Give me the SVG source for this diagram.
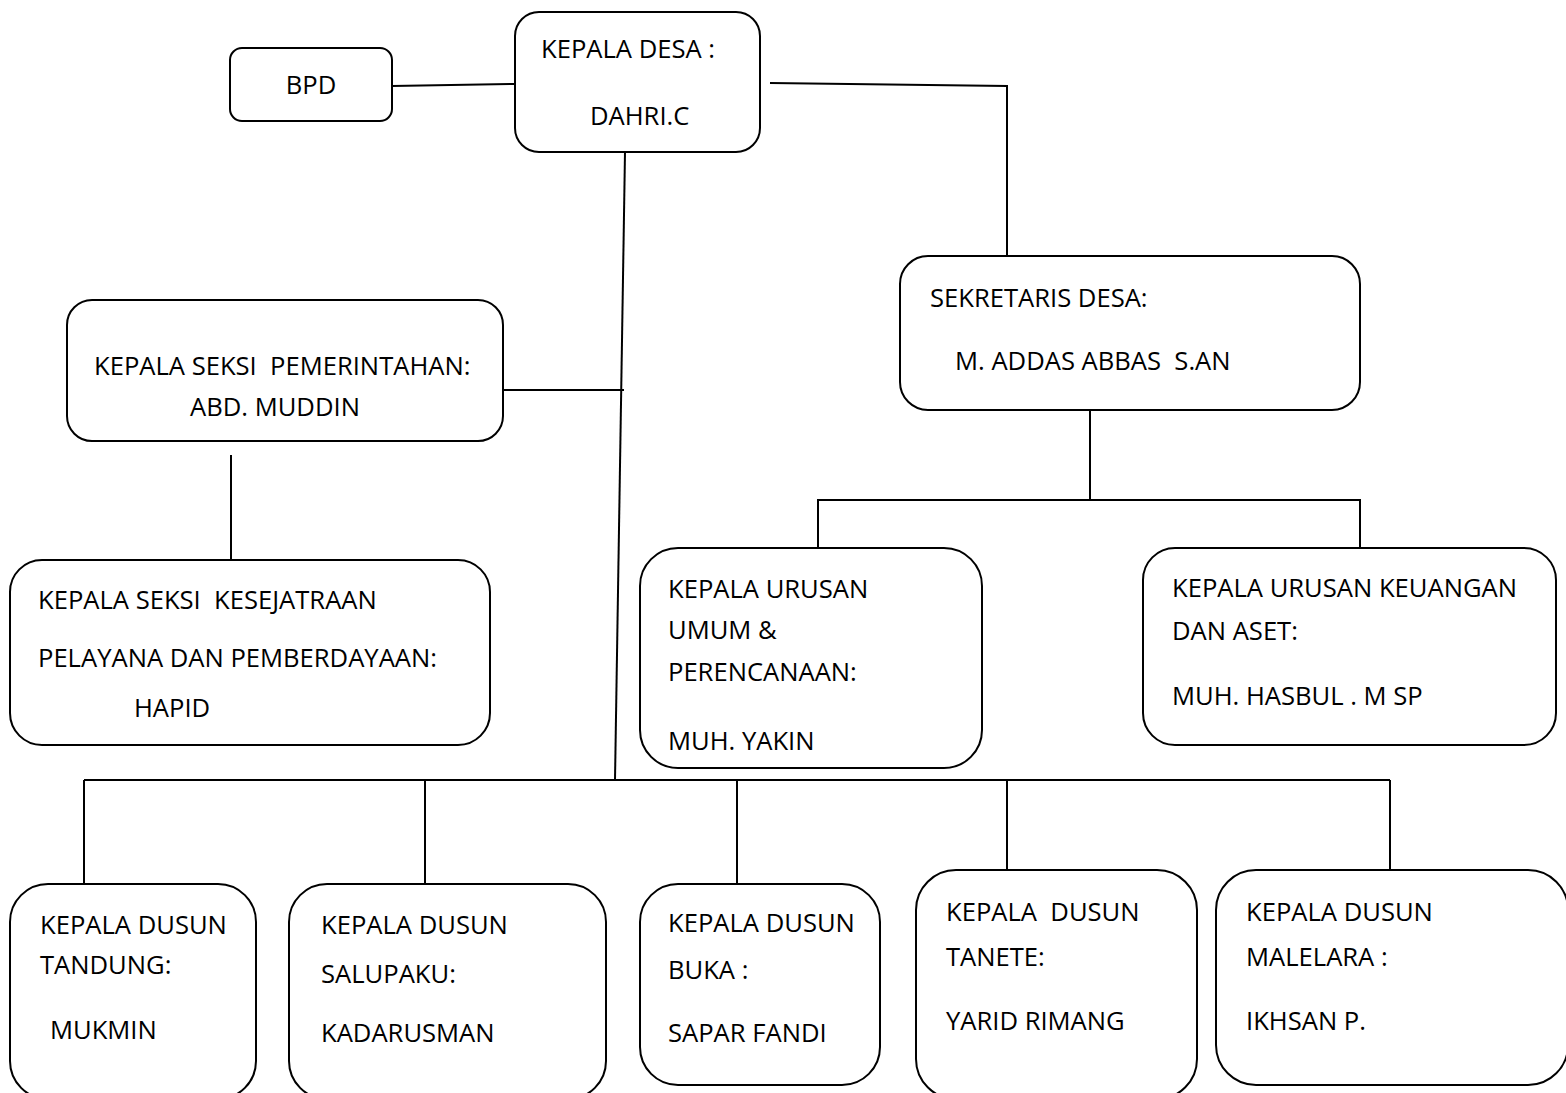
<svg xmlns="http://www.w3.org/2000/svg" width="1566" height="1093" viewBox="0 0 1566 1093">
<style>
.box{fill:#fff;stroke:#000;stroke-width:2}
.ln{fill:none;stroke:#000;stroke-width:2}
text{font-family:"Open Sans","Noto Sans",sans-serif;font-size:25.6px;fill:#000;white-space:pre}
</style>
<rect width="1566" height="1093" fill="#fff"/>
<g id="connectors">
<line class="ln" x1="392" y1="86" x2="515" y2="84"/>
<polyline class="ln" points="770,83 1007,86 1007,256"/>
<line class="ln" x1="625" y1="152" x2="615" y2="780"/>
<line class="ln" x1="503" y1="390" x2="624" y2="390"/>
<line class="ln" x1="231" y1="455" x2="231" y2="560"/>
<line class="ln" x1="1090" y1="410" x2="1090" y2="500"/>
<polyline class="ln" points="818,548 818,500 1360,500 1360,548"/>
<line class="ln" x1="84" y1="780" x2="1390" y2="780"/>
<line class="ln" x1="84" y1="780" x2="84" y2="884"/>
<line class="ln" x1="425" y1="780" x2="425" y2="884"/>
<line class="ln" x1="737" y1="780" x2="737" y2="884"/>
<line class="ln" x1="1007" y1="780" x2="1007" y2="870"/>
<line class="ln" x1="1390" y1="780" x2="1390" y2="870"/>
</g>
<g id="bpd"><rect class="box" x="230" y="48" width="162" height="73" rx="12"/><text x="311" y="94" text-anchor="middle">BPD</text></g>
<g id="kepala-desa"><rect class="box" x="515" y="12" width="245" height="140" rx="24"/><text x="541" y="58">KEPALA DESA :</text><text x="590" y="125">DAHRI.C</text></g>
<g id="sekretaris"><rect class="box" x="900" y="256" width="460" height="154" rx="28"/><text x="930" y="307">SEKRETARIS DESA:</text><text x="955" y="370">M. ADDAS ABBAS  S.AN</text></g>
<g id="seksi-pemerintahan"><rect class="box" x="67" y="300" width="436" height="141" rx="25"/><text x="94" y="375">KEPALA SEKSI  PEMERINTAHAN:</text><text x="190" y="416">ABD. MUDDIN</text></g>
<g id="seksi-kesejatraan"><rect class="box" x="10" y="560" width="480" height="185" rx="32"/><text x="38" y="609">KEPALA SEKSI  KESEJATRAAN</text><text x="38" y="667">PELAYANA DAN PEMBERDAYAAN:</text><text x="134" y="717">HAPID</text></g>
<g id="urusan-umum"><rect class="box" x="640" y="548" width="342" height="220" rx="38"/><text x="668" y="598">KEPALA URUSAN</text><text x="668" y="639">UMUM &amp;</text><text x="668" y="681">PERENCANAAN:</text><text x="668" y="750">MUH. YAKIN</text></g>
<g id="urusan-keuangan"><rect class="box" x="1143" y="548" width="413" height="197" rx="32"/><text x="1172" y="597">KEPALA URUSAN KEUANGAN</text><text x="1172" y="640">DAN ASET:</text><text x="1172" y="705">MUH. HASBUL . M SP</text></g>
<g id="dusun-tandung"><rect class="box" x="10" y="884" width="246" height="215" rx="38"/><text x="40" y="934">KEPALA DUSUN</text><text x="40" y="974">TANDUNG:</text><text x="50" y="1039">MUKMIN</text></g>
<g id="dusun-salupaku"><rect class="box" x="289" y="884" width="317" height="215" rx="38"/><text x="321" y="934">KEPALA DUSUN</text><text x="321" y="983">SALUPAKU:</text><text x="321" y="1042">KADARUSMAN</text></g>
<g id="dusun-buka"><rect class="box" x="640" y="884" width="240" height="201" rx="38"/><text x="668" y="932">KEPALA DUSUN</text><text x="668" y="979">BUKA :</text><text x="668" y="1042">SAPAR FANDI</text></g>
<g id="dusun-tanete"><rect class="box" x="916" y="870" width="281" height="229" rx="40"/><text x="946" y="921">KEPALA  DUSUN</text><text x="946" y="966">TANETE:</text><text x="946" y="1030">YARID RIMANG</text></g>
<g id="dusun-malelara"><rect class="box" x="1216" y="870" width="352" height="215" rx="40"/><text x="1246" y="921">KEPALA DUSUN</text><text x="1246" y="966">MALELARA :</text><text x="1246" y="1030">IKHSAN P.</text></g>
</svg>
